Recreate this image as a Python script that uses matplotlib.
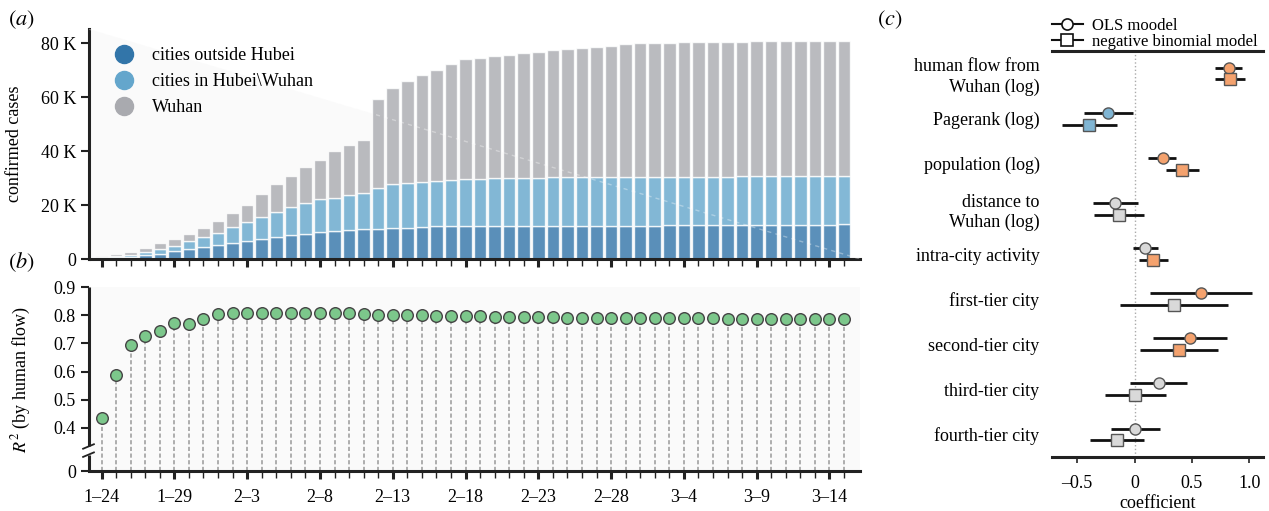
import numpy as np
import pandas as pd
import matplotlib
matplotlib.use('Agg')
import matplotlib.pyplot as plt
from matplotlib.lines import Line2D
from matplotlib.ticker import FixedLocator
import matplotlib.transforms as mtransforms

plt.rcParams['font.family'] = ['Liberation Serif', 'DejaVu Serif']
plt.rcParams['mathtext.fontset'] = 'stix'
plt.rcParams['font.size'] = 13

# ---- data -------------------------------------------------------------
dates = pd.date_range('2020-01-24', '2020-03-15')
date_labels = [f'{d.month}\u2013{d.day}' for d in dates]

# cumulative confirmed cases, thousands
outside_hubei = [0.5, 0.7, 0.9, 1.3, 2.0, 2.8, 3.7, 4.4, 5.2, 5.8,
                 6.5, 7.4, 8.1, 8.8, 9.1, 9.9, 10.4, 10.7, 11.0, 11.2,
                 11.4, 11.6, 12.0, 12.1, 12.2, 12.2, 12.2, 12.3, 12.3, 12.3,
                 12.4, 12.4, 12.4, 12.4, 12.4, 12.4, 12.4, 12.4, 12.4, 12.5,
                 12.5, 12.5, 12.5, 12.5, 12.5, 12.6, 12.6, 12.6, 12.6, 12.6,
                 12.6, 12.8]
outside_wuhan = [0.7, 1.1, 1.6, 2.5, 3.6, 4.7, 6.5, 8.3, 9.8, 11.7,
                 13.7, 15.6, 17.6, 19.1, 20.6, 22.1, 22.7, 23.8, 24.6, 26.4,
                 27.7, 28.3, 28.7, 29.0, 29.4, 29.5, 29.8, 29.9, 30.1, 30.2,
                 30.2, 30.3, 30.3, 30.3, 30.3, 30.3, 30.4, 30.4, 30.4, 30.5,
                 30.5, 30.5, 30.5, 30.5, 30.6, 30.6, 30.6, 30.6, 30.6, 30.6,
                 30.6, 30.6]
total_cases = [1.1, 1.7, 2.5, 4.2, 5.8, 7.5, 9.4, 11.6, 14.1, 17.0,
               20.2, 24.0, 27.8, 30.9, 34.3, 36.9, 39.9, 42.2, 44.3, 59.4,
               63.6, 66.2, 68.3, 70.2, 72.2, 74.0, 74.7, 75.4, 75.8, 76.4,
               76.9, 77.4, 77.9, 78.3, 78.6, 79.0, 79.8, 80.0, 80.1, 80.2,
               80.3, 80.4, 80.5, 80.6, 80.6, 80.7, 80.7, 80.8, 80.8, 80.8,
               80.8, 80.9]

r2 = [0.435, 0.587, 0.695, 0.726, 0.743, 0.771, 0.770, 0.787, 0.803, 0.807,
      0.809, 0.807, 0.806, 0.807, 0.809, 0.809, 0.807, 0.806, 0.804, 0.802,
      0.800, 0.799, 0.799, 0.798, 0.797, 0.796, 0.796, 0.795, 0.794, 0.793,
      0.792, 0.792, 0.791, 0.791, 0.790, 0.790, 0.790, 0.790, 0.789, 0.789,
      0.789, 0.789, 0.789, 0.788, 0.788, 0.788, 0.788, 0.788, 0.788, 0.788,
      0.788, 0.788]

variables = ['human flow from\nWuhan (log)', 'Pagerank (log)', 'population (log)',
             'distance to\nWuhan (log)', 'intra-city activity', 'first-tier city',
             'second-tier city', 'third-tier city', 'fourth-tier city']
ols_coef = [0.82, -0.23, 0.245, -0.17, 0.09, 0.58, 0.48, 0.21, 0.005]
ols_lo = [0.70, -0.445, 0.12, -0.365, -0.01, 0.135, 0.165, -0.04, -0.205]
ols_hi = [0.94, -0.01, 0.365, 0.03, 0.20, 1.02, 0.805, 0.455, 0.22]
nb_coef = [0.835, -0.395, 0.41, -0.14, 0.165, 0.34, 0.385, 0.005, -0.155]
nb_lo = [0.70, -0.63, 0.275, -0.355, 0.035, -0.125, 0.05, -0.26, -0.385]
nb_hi = [0.96, -0.155, 0.565, 0.08, 0.295, 0.815, 0.725, 0.275, 0.08]

# ---- style ------------------------------------------------------------
dark = '#222222'
c_outside = '#3275a9'
c_hubei = '#64a6cc'
c_wuhan = '#a9aaaf'
c_pos = '#f4a26e'
c_neg = '#80b5d3'
c_ns = '#d9d9d9'

W, H = 1269, 511
fig = plt.figure(figsize=(W / 100, H / 100), dpi=100)


def px_axes(left, top, right, bottom):
    return fig.add_axes([left / W, 1 - bottom / H, (right - left) / W, (bottom - top) / H])


def style_spines(ax, which):
    for s in ['left', 'right', 'top', 'bottom']:
        ax.spines[s].set_visible(s in which)
        ax.spines[s].set_linewidth(2.2)
        ax.spines[s].set_color(dark)


x = np.arange(len(dates))
major = list(range(0, len(dates), 5))

# ---- (a) stacked bars ---------------------------------------------------
ax1 = px_axes(88.5, 29, 860, 259)
style_spines(ax1, ['left', 'bottom'])
ax1.fill([0, 0, 1], [1, 0, 0], transform=ax1.transAxes, color='#fafafa', zorder=0, lw=0)

outside = np.array(outside_hubei)
mid = np.array(outside_wuhan)
total = np.array(total_cases)
kw = dict(width=0.86, edgecolor='white', linewidth=1.0, alpha=0.8, zorder=2)
ax1.bar(x, outside, color=c_outside, **kw)
ax1.bar(x, mid - outside, bottom=outside, color=c_hubei, **kw)
ax1.bar(x, total - mid, bottom=mid, color=c_wuhan, **kw)
ax1.plot([0, 1], [1, 0], transform=ax1.transAxes, color='white', alpha=0.35,
         lw=1, ls=(0, (3, 3)), zorder=3)

ax1.set_xlim(-0.9, 52.1)
ax1.set_ylim(0, 85.3)
ax1.set_yticks([0, 20, 40, 60, 80])
ax1.set_yticklabels(['0', '20 K', '40 K', '60 K', '80 K'])
ax1.xaxis.set_major_locator(FixedLocator(major))
ax1.xaxis.set_minor_locator(FixedLocator(x))
ax1.tick_params(axis='x', which='major', length=6, width=2.2, color=dark, labelbottom=False)
ax1.tick_params(axis='x', which='minor', length=5, width=1.0, color=dark)
ax1.tick_params(axis='y', length=6, width=1.5, color=dark, pad=3)
ax1.set_ylabel('confirmed cases')
ax1.yaxis.set_label_coords(-0.085, 0.5)

handles = [Line2D([], [], ls='none', marker='o', ms=13, mfc=c, mec=c)
           for c in [c_outside, c_hubei, c_wuhan]]
ax1.legend(handles, ['cities outside Hubei', 'cities in Hubei\\Wuhan', 'Wuhan'],
           loc='upper left', bbox_to_anchor=(0.022, 0.92), frameon=False,
           borderpad=0, borderaxespad=0, labelspacing=0.5, handletextpad=0.58)

# ---- (b) R^2 lollipops --------------------------------------------------
y0 = 0.247
ax2 = px_axes(88.5, 287, 860, 471)
style_spines(ax2, ['bottom'])
ax2.set_facecolor('#fafafa')
ax2.vlines(x, y0, r2, colors='#a0a0a0', lw=1.2, linestyles=(0, (2.5, 1.5)), zorder=1)
ax2.scatter(x, r2, s=70, color='#7cc78b', edgecolor='#444444', lw=1, zorder=3)
ax2.set_xlim(-0.9, 52.1)
ax2.set_ylim(y0, 0.9)
ax2.set_yticks([y0, 0.4, 0.5, 0.6, 0.7, 0.8, 0.9])
ax2.set_yticklabels(['0', '0.4', '0.5', '0.6', '0.7', '0.8', '0.9'])
ax2.xaxis.set_major_locator(FixedLocator(major))
ax2.xaxis.set_minor_locator(FixedLocator(x))
ax2.set_xticklabels([date_labels[i] for i in major])
ax2.tick_params(axis='x', which='major', length=6, width=2.2, color=dark, pad=7)
ax2.tick_params(axis='x', which='minor', length=5, width=1.0, color=dark)
ax2.tick_params(axis='y', length=6, width=1.5, color=dark, pad=3)
ax2.set_ylabel('$R^2$ (by human flow)')
ax2.yaxis.set_label_coords(-0.072, 0.5)

# broken left axis
bt = mtransforms.blended_transform_factory(ax2.transAxes, ax2.transData)
ax2.plot([0, 0], [y0, 0.305], transform=bt, color=dark, lw=2.2, clip_on=False,
         solid_capstyle='butt')
ax2.plot([0, 0], [0.334, 0.9], transform=bt, color=dark, lw=2.2, clip_on=False,
         solid_capstyle='butt')
for yb in [0.305, 0.334]:
    ax2.plot([-0.007, 0.007], [yb - 0.008, yb + 0.008], transform=bt, color=dark,
             lw=1.3, clip_on=False)

# ---- (c) coefficients ---------------------------------------------------
ax3 = px_axes(1052, 51, 1263, 457)
style_spines(ax3, ['top', 'bottom'])
ax3.axvline(0, color='#aaaaaa', lw=1, ls=':', zorder=0)


def sig_color(lo, hi):
    if lo > 0:
        return c_pos
    if hi < 0:
        return c_neg
    return c_ns


rows = np.arange(len(variables))
off = 0.13
for i in rows:
    ax3.hlines(i - off, ols_lo[i], ols_hi[i], color='#111111', lw=2, zorder=2)
    ax3.plot(ols_coef[i], i - off, marker='o', ms=8, mfc=sig_color(ols_lo[i], ols_hi[i]),
             mec='#555555', mew=1, zorder=3)
    ax3.hlines(i + off, nb_lo[i], nb_hi[i], color='#111111', lw=2, zorder=2)
    ax3.plot(nb_coef[i], i + off, marker='s', ms=8, mfc=sig_color(nb_lo[i], nb_hi[i]),
             mec='#555555', mew=1, zorder=3)

ax3.set_xlim(-0.72, 1.12)
ax3.set_ylim(8.5, -0.5)
ax3.set_yticks(rows)
ax3.set_yticklabels(variables, ha='right', linespacing=1.25)
ax3.tick_params(axis='y', length=0, pad=9)
ax3.set_xticks([-0.5, 0, 0.5, 1.0])
ax3.set_xticklabels(['\u20130.5', '0', '0.5', '1.0'])
ax3.tick_params(axis='x', length=4, width=1.2, color=dark, pad=9)
ax3.set_xlabel('coefficient', labelpad=2)

leg_handles = [Line2D([], [], color='#111111', lw=1.5, marker=m, ms=8, mfc='white',
                      mec='#111111', mew=1.2) for m in ['o', 's']]
ax3.legend(leg_handles, ['OLS moodel', 'negative binomial model'], loc='lower left',
           bbox_to_anchor=(0.0, 1.003), frameon=False, borderpad=0, borderaxespad=0,
           labelspacing=0.0, handlelength=1.85, handletextpad=0.55, fontsize=12)

# panel letters
fig.text(8 / W, 1 - 20 / H, '$(a)$', fontsize=16, va='center', ha='left')
fig.text(8 / W, 1 - 262 / H, '$(b)$', fontsize=16, va='center', ha='left')
fig.text(877 / W, 1 - 20 / H, '$(c)$', fontsize=16, va='center', ha='left')

fig.savefig('out.png', dpi=100)
